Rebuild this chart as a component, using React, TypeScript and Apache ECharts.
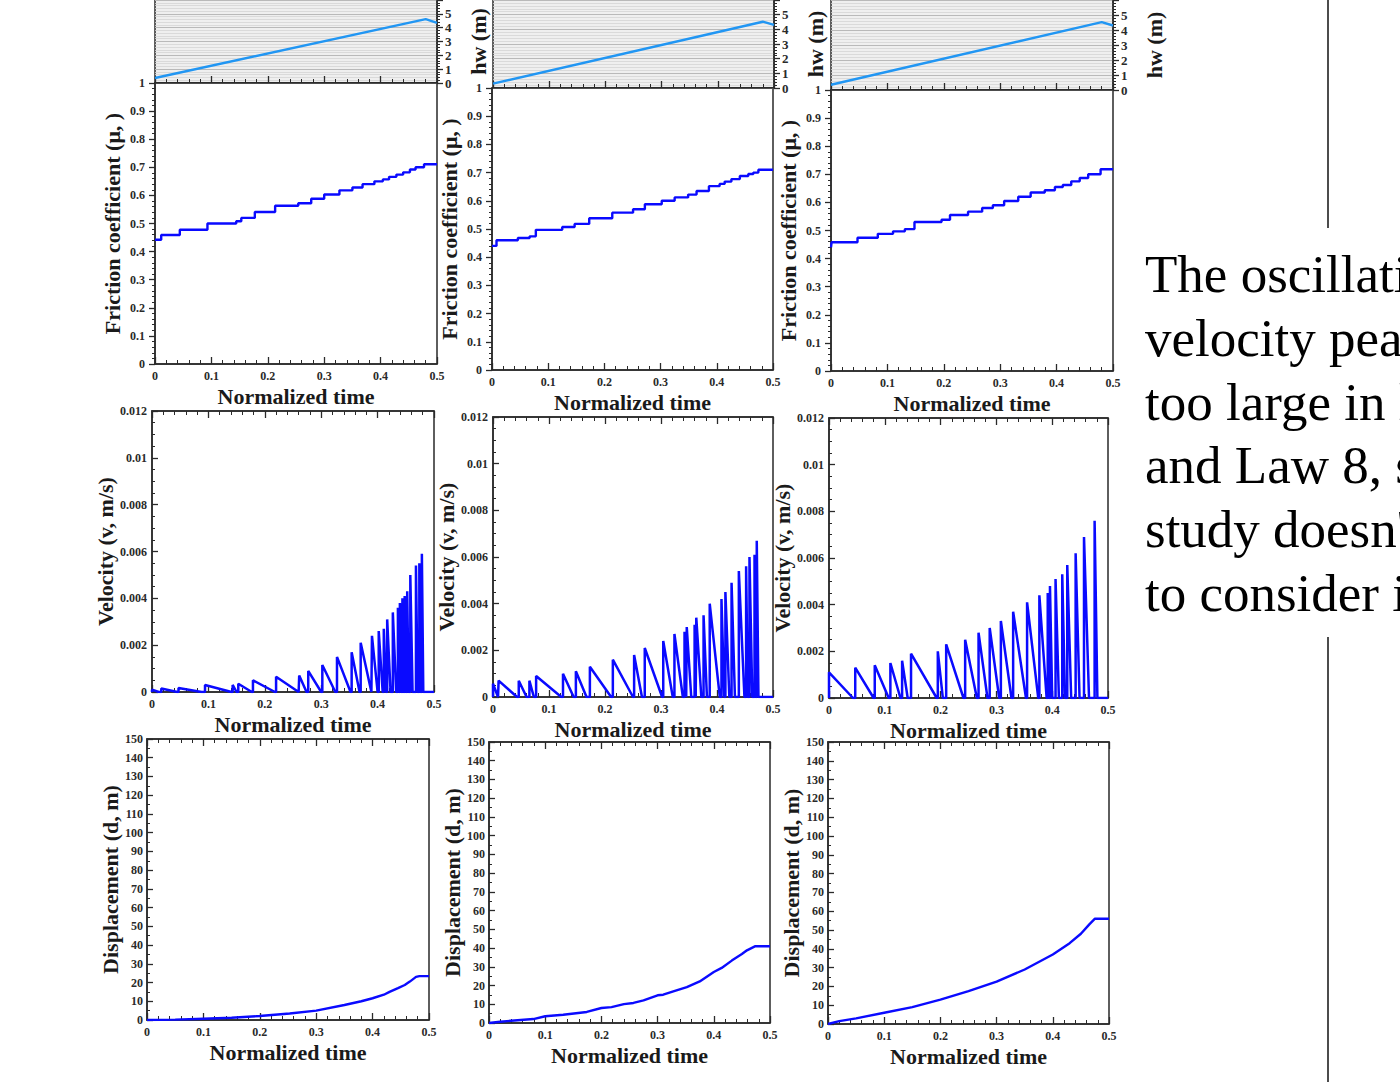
import React, { useEffect, useRef } from "react";
import * as echarts from "echarts";

// ---------------- DATA ----------------
const timeRange = [0, 0.5];

// water level hw (m) in the top strips: [normalized time, hw]
const hwLaw1 = [[0, 0.36], [0.48, 4.62], [0.5, 4.35]];
const hwLaw2 = [[0, 0.3], [0.48, 4.52], [0.5, 4.3]];
const hwLaw3 = [[0, 0.35], [0.48, 4.52], [0.5, 4.3]];

// friction coefficient steps: [time of change, value held from then on]
const frictionLaw1 = [
  [0, 0.442], [0.011, 0.459], [0.044, 0.478], [0.093, 0.5], [0.144, 0.508], [0.153, 0.52],
  [0.177, 0.541], [0.213, 0.563], [0.254, 0.572], [0.277, 0.588], [0.3, 0.603], [0.327, 0.618],
  [0.35, 0.628], [0.368, 0.64], [0.389, 0.65], [0.404, 0.657], [0.415, 0.666], [0.428, 0.674],
  [0.44, 0.682], [0.452, 0.692], [0.462, 0.7], [0.477, 0.711], [0.5, 0.711],
];
const frictionLaw2 = [
  [0, 0.44], [0.008, 0.46], [0.046, 0.468], [0.067, 0.474], [0.078, 0.497], [0.125, 0.507],
  [0.147, 0.518], [0.173, 0.538], [0.214, 0.558], [0.251, 0.57], [0.272, 0.588], [0.302, 0.6],
  [0.325, 0.612], [0.349, 0.622], [0.364, 0.635], [0.386, 0.652], [0.405, 0.66], [0.414, 0.668],
  [0.426, 0.677], [0.441, 0.688], [0.456, 0.695], [0.465, 0.7], [0.474, 0.71], [0.5, 0.71],
];
const frictionLaw3 = [
  [0, 0.44], [0.001, 0.458], [0.047, 0.474], [0.083, 0.488], [0.11, 0.497], [0.131, 0.505],
  [0.148, 0.53], [0.196, 0.538], [0.211, 0.555], [0.243, 0.567], [0.268, 0.58], [0.287, 0.59],
  [0.307, 0.605], [0.332, 0.62], [0.354, 0.635], [0.379, 0.643], [0.397, 0.655], [0.411, 0.662],
  [0.426, 0.675], [0.441, 0.687], [0.456, 0.7], [0.478, 0.718], [0.5, 0.718],
];

// velocity spikes: [start time, peak velocity (m/s), time back to zero]
const velocityLaw1 = [
  [0, 0.0001, 0.012], [0.0165, 0.00015, 0.045], [0.047, 0.00017, 0.088], [0.094, 0.0003, 0.141],
  [0.143, 0.0003, 0.15], [0.153, 0.00035, 0.177], [0.179, 0.0005, 0.218], [0.22, 0.00065, 0.26],
  [0.261, 0.0007, 0.274], [0.277, 0.0009, 0.3], [0.302, 0.00115, 0.325], [0.328, 0.0015, 0.352],
  [0.354, 0.0017, 0.368], [0.37, 0.0021, 0.389], [0.39, 0.0024, 0.4], [0.402, 0.0026, 0.409],
  [0.411, 0.0027, 0.415], [0.417, 0.0031, 0.423], [0.427, 0.0034, 0.433], [0.436, 0.0036, 0.438],
  [0.4395, 0.0038, 0.442], [0.444, 0.004, 0.446], [0.448, 0.0041, 0.45], [0.4525, 0.0043, 0.455],
  [0.458, 0.005, 0.462], [0.468, 0.0054, 0.471], [0.474, 0.0055, 0.476], [0.4785, 0.0059, 0.481],
];
const velocityLaw2 = [
  [0, 0.00057, 0.009], [0.01, 0.0007, 0.043], [0.046, 0.0007, 0.06], [0.065, 0.0007, 0.073],
  [0.077, 0.0009, 0.122], [0.125, 0.001, 0.144], [0.148, 0.0011, 0.167], [0.173, 0.0013, 0.211],
  [0.214, 0.0016, 0.25], [0.252, 0.0018, 0.266], [0.271, 0.0021, 0.302], [0.304, 0.0024, 0.321],
  [0.324, 0.0027, 0.339], [0.342, 0.0028, 0.345], [0.346, 0.003, 0.354], [0.36, 0.0031, 0.362],
  [0.363, 0.0034, 0.372], [0.376, 0.0035, 0.382], [0.387, 0.004, 0.405], [0.408, 0.0042, 0.413],
  [0.415, 0.0045, 0.422], [0.426, 0.0049, 0.432], [0.439, 0.0054, 0.449], [0.452, 0.0056, 0.455],
  [0.458, 0.006, 0.463], [0.467, 0.0061, 0.469], [0.471, 0.0067, 0.474],
];
const velocityLaw3 = [
  [0, 0.0011, 0.043], [0.047, 0.0013, 0.08], [0.082, 0.0014, 0.107], [0.11, 0.0015, 0.128],
  [0.131, 0.0016, 0.141], [0.147, 0.0019, 0.193], [0.195, 0.002, 0.204], [0.21, 0.0023, 0.241],
  [0.244, 0.0025, 0.265], [0.268, 0.0028, 0.284], [0.288, 0.003, 0.305], [0.308, 0.0033, 0.327],
  [0.33, 0.0037, 0.353], [0.355, 0.0041, 0.375], [0.377, 0.0044, 0.39], [0.392, 0.0045, 0.394],
  [0.396, 0.0048, 0.4], [0.406, 0.0051, 0.412], [0.418, 0.0053, 0.423], [0.427, 0.0057, 0.434],
  [0.442, 0.0062, 0.449], [0.457, 0.0069, 0.466], [0.476, 0.0076, 0.481],
];

// displacement (m)
const displacementLaw1 = [
  [0, 0], [0.05, 0.2], [0.1, 0.7], [0.15, 1.2], [0.2, 2.1], [0.253, 3.5], [0.3, 5],
  [0.35, 8], [0.38, 10], [0.4, 11.6], [0.42, 13.5], [0.43, 15], [0.445, 17], [0.457, 18.7],
  [0.466, 20.5], [0.477, 23], [0.483, 23.4], [0.5, 23.4],
];
const displacementLaw2 = [
  [0, 0], [0.02, 0.7], [0.079, 2.1], [0.1, 3.6], [0.132, 4.4], [0.174, 5.9], [0.2, 8],
  [0.218, 8.5], [0.24, 10.1], [0.257, 10.7], [0.275, 12.1], [0.3, 14.8], [0.31, 15.1],
  [0.328, 16.9], [0.352, 19.2], [0.375, 22.2], [0.4, 27.2], [0.414, 29.4], [0.432, 33.3],
  [0.45, 36.8], [0.459, 38.8], [0.474, 41], [0.5, 41],
];
const displacementLaw3 = [
  [0, 0], [0.02, 1.5], [0.05, 3], [0.1, 6], [0.15, 9], [0.2, 13], [0.25, 17.5], [0.3, 22.5],
  [0.35, 29], [0.4, 37], [0.43, 43], [0.45, 48], [0.465, 53], [0.475, 56], [0.5, 56],
];

// the paragraph on the right, cut by the slide edge as in the picture
const noteLines = [
  "The oscillati",
  "velocity pea",
  "too large in l",
  "and Law 8, s",
  "study doesn'",
  "to consider i",
];

// ---------------- STYLE / LAYOUT ----------------
const FONT = "'Liberation Serif', 'DejaVu Serif', 'Times New Roman', serif";
const AX = "#2a2a2a";
const BLUE = "#0a0aff";
const HWBLUE = "#2196f3";

type Box = { left: number; top: number; width: number; height: number };
const strips: Box[] = [
  { left: 155, top: -18, width: 282, height: 101 },
  { left: 493, top: -14, width: 281, height: 102 },
  { left: 831, top: -12, width: 282, height: 102 },
];
const fricBoxes: Box[] = [
  { left: 155, top: 83, width: 282, height: 281 },
  { left: 492, top: 88, width: 281, height: 282 },
  { left: 831, top: 90, width: 282, height: 281 },
];
const velBoxes: Box[] = [
  { left: 152, top: 411, width: 282, height: 281 },
  { left: 493, top: 417, width: 280, height: 280 },
  { left: 829, top: 418, width: 279, height: 280 },
];
const dispBoxes: Box[] = [
  { left: 147, top: 739, width: 282, height: 281 },
  { left: 489, top: 742, width: 281, height: 281 },
  { left: 828, top: 742, width: 281, height: 282 },
];

const labelStyle = (size = 12) => ({
  color: AX,
  fontFamily: FONT,
  fontWeight: "bold" as const,
  fontSize: size,
});
const nameStyle = (size = 22) => ({
  color: "#1a1a1a",
  fontFamily: FONT,
  fontWeight: "bold" as const,
  fontSize: size,
});
const fmt = (d: number) => (v: number) => String(+Number(v).toFixed(d));

function spikesToLine(spikes: number[][]) {
  const pts: number[][] = [];
  spikes.forEach(([s, p, e]) => {
    pts.push([s, 0], [s, p], [e, 0]);
  });
  pts.push([timeRange[1], 0]);
  return pts;
}

export default function App() {
  const ref = useRef<HTMLDivElement>(null);

  useEffect(() => {
    if (!ref.current) return;
    const chart = echarts.init(ref.current, undefined, { renderer: "svg" });

    const grid: any[] = [];
    const xAxis: any[] = [];
    const yAxis: any[] = [];
    const series: any[] = [];

    const addGrid = (b: Box, bg = "transparent") => {
      grid.push({
        ...b,
        show: true,
        borderColor: AX,
        borderWidth: 1.5,
        backgroundColor: bg,
        containLabel: false,
      });
      return grid.length - 1;
    };

    const xAx = (gi: number, opts: { labels: boolean; top?: boolean }) => {
      xAxis.push({
        type: "value",
        gridIndex: gi,
        position: opts.top ? "top" : "bottom",
        min: timeRange[0],
        max: timeRange[1],
        interval: 0.1,
        axisLine: { show: true, onZero: false, lineStyle: { color: AX, width: 1.5 } },
        axisTick: { show: true, inside: true, length: 7, lineStyle: { color: AX, width: 1.3 } },
        minorTick: { show: true, splitNumber: 5, length: 4, lineStyle: { color: AX, width: 1 } },
        splitLine: { show: false },
        axisLabel: { show: opts.labels, margin: 6, formatter: fmt(2), ...labelStyle(12) },
        name: opts.labels ? "Normalized time" : "",
        nameLocation: "middle",
        nameGap: 21,
        nameTextStyle: nameStyle(22),
      });
      return xAxis.length - 1;
    };

    const yAx = (gi: number, o: any) => {
      yAxis.push({
        type: "value",
        gridIndex: gi,
        position: o.position || "left",
        min: o.min,
        max: o.max,
        interval: o.interval,
        axisLine: { show: true, onZero: false, lineStyle: { color: AX, width: 1.5 } },
        axisTick: { show: true, inside: !!o.inside, length: 6, lineStyle: { color: AX, width: 1.3 } },
        minorTick: { show: true, splitNumber: o.minor, length: 3, lineStyle: { color: AX, width: 1 } },
        splitLine: o.splitLine || { show: false },
        minorSplitLine: o.minorSplitLine || { show: false },
        axisLabel: {
          show: true,
          margin: o.margin,
          formatter: fmt(o.dec),
          showMinLabel: true,
          showMaxLabel: o.hideMax ? false : true,
          ...labelStyle(o.fs || 12),
        },
        name: o.name,
        nameLocation: "middle",
        nameRotate: 90,
        nameGap: o.nameGap,
        nameTextStyle: nameStyle(o.nameSize || 22),
      });
      return yAxis.length - 1;
    };

    const hwData = [hwLaw1, hwLaw2, hwLaw3];
    const fricData = [frictionLaw1, frictionLaw2, frictionLaw3];
    const velData = [velocityLaw1, velocityLaw2, velocityLaw3];
    const dispData = [displacementLaw1, displacementLaw2, displacementLaw3];

    for (let c = 0; c < 3; c++) {
      // hw strip
      {
        const gi = addGrid(strips[c], "#efefef");
        const xi = xAx(gi, { labels: false });
        const yi = yAx(gi, {
          position: "right", min: 0, max: 6, interval: 1, minor: 5, dec: 0, margin: 8, fs: 13,
          hideMax: true,
          name: "hw (m)", nameGap: 30, nameSize: 22,
          splitLine: { show: true, lineStyle: { color: "#b9b9b9", width: 1 } },
          minorSplitLine: { show: true, lineStyle: { color: "#d4d4d4", width: 0.8 } },
        });
        series.push({
          type: "line", xAxisIndex: xi, yAxisIndex: yi, data: hwData[c],
          showSymbol: false, lineStyle: { color: HWBLUE, width: 2.4 }, z: 5,
        });
      }
      // friction
      {
        const gi = addGrid(fricBoxes[c]);
        const xi = xAx(gi, { labels: true });
        const yi = yAx(gi, {
          min: 0, max: 1, interval: 0.1, minor: 5, dec: 1, margin: 10, inside: false,
          name: "Friction coefficient (μ, )", nameGap: 32,
        });
        series.push({
          type: "line", step: "end", xAxisIndex: xi, yAxisIndex: yi, data: fricData[c],
          showSymbol: false, lineStyle: { color: BLUE, width: 2.4 },
        });
      }
      // velocity
      {
        const gi = addGrid(velBoxes[c]);
        const xi = xAx(gi, { labels: true });
        xAx(gi, { labels: false, top: true });
        const yi = yAx(gi, {
          min: 0, max: 0.012, interval: 0.002, minor: 4, dec: 4, margin: 5, inside: true,
          name: "Velocity (v, m/s)", nameGap: 35,
        });
        series.push({
          type: "line", xAxisIndex: xi, yAxisIndex: yi, data: spikesToLine(velData[c]),
          showSymbol: false, lineStyle: { color: BLUE, width: 2.5 },
        });
      }
      // displacement
      {
        const gi = addGrid(dispBoxes[c]);
        const xi = xAx(gi, { labels: true });
        xAx(gi, { labels: false, top: true });
        const yi = yAx(gi, {
          min: 0, max: 150, interval: 10, minor: 2, dec: 0, margin: 4, inside: true,
          name: "Displacement (d, m)", nameGap: 26,
        });
        series.push({
          type: "line", xAxisIndex: xi, yAxisIndex: yi, data: dispData[c],
          showSymbol: false, lineStyle: { color: BLUE, width: 2.4 },
        });
      }
    }

    const graphic: any[] = [
      { type: "line", shape: { x1: 1328, y1: 0, x2: 1328, y2: 228 }, style: { stroke: "#111", lineWidth: 1.5 } },
      { type: "line", shape: { x1: 1328, y1: 637, x2: 1328, y2: 1082 }, style: { stroke: "#111", lineWidth: 1.5 } },
    ];
    noteLines.forEach((t, i) => {
      graphic.push({
        type: "text",
        x: 1145,
        y: 274 + i * 63.8,
        style: {
          text: t,
          fill: "#000",
          fontSize: 53,
          fontFamily: FONT,
          verticalAlign: "middle",
          align: "left",
        },
        z: 10,
      });
    });

    chart.setOption({
      animation: false,
      backgroundColor: "#ffffff",
      grid,
      xAxis,
      yAxis,
      series,
      graphic,
    });

    return () => chart.dispose();
  }, []);

  return (
    <div
      ref={ref}
      style={{ position: "absolute", left: 0, top: 0, width: 1400, height: 1082, overflow: "hidden" }}
    />
  );
}
